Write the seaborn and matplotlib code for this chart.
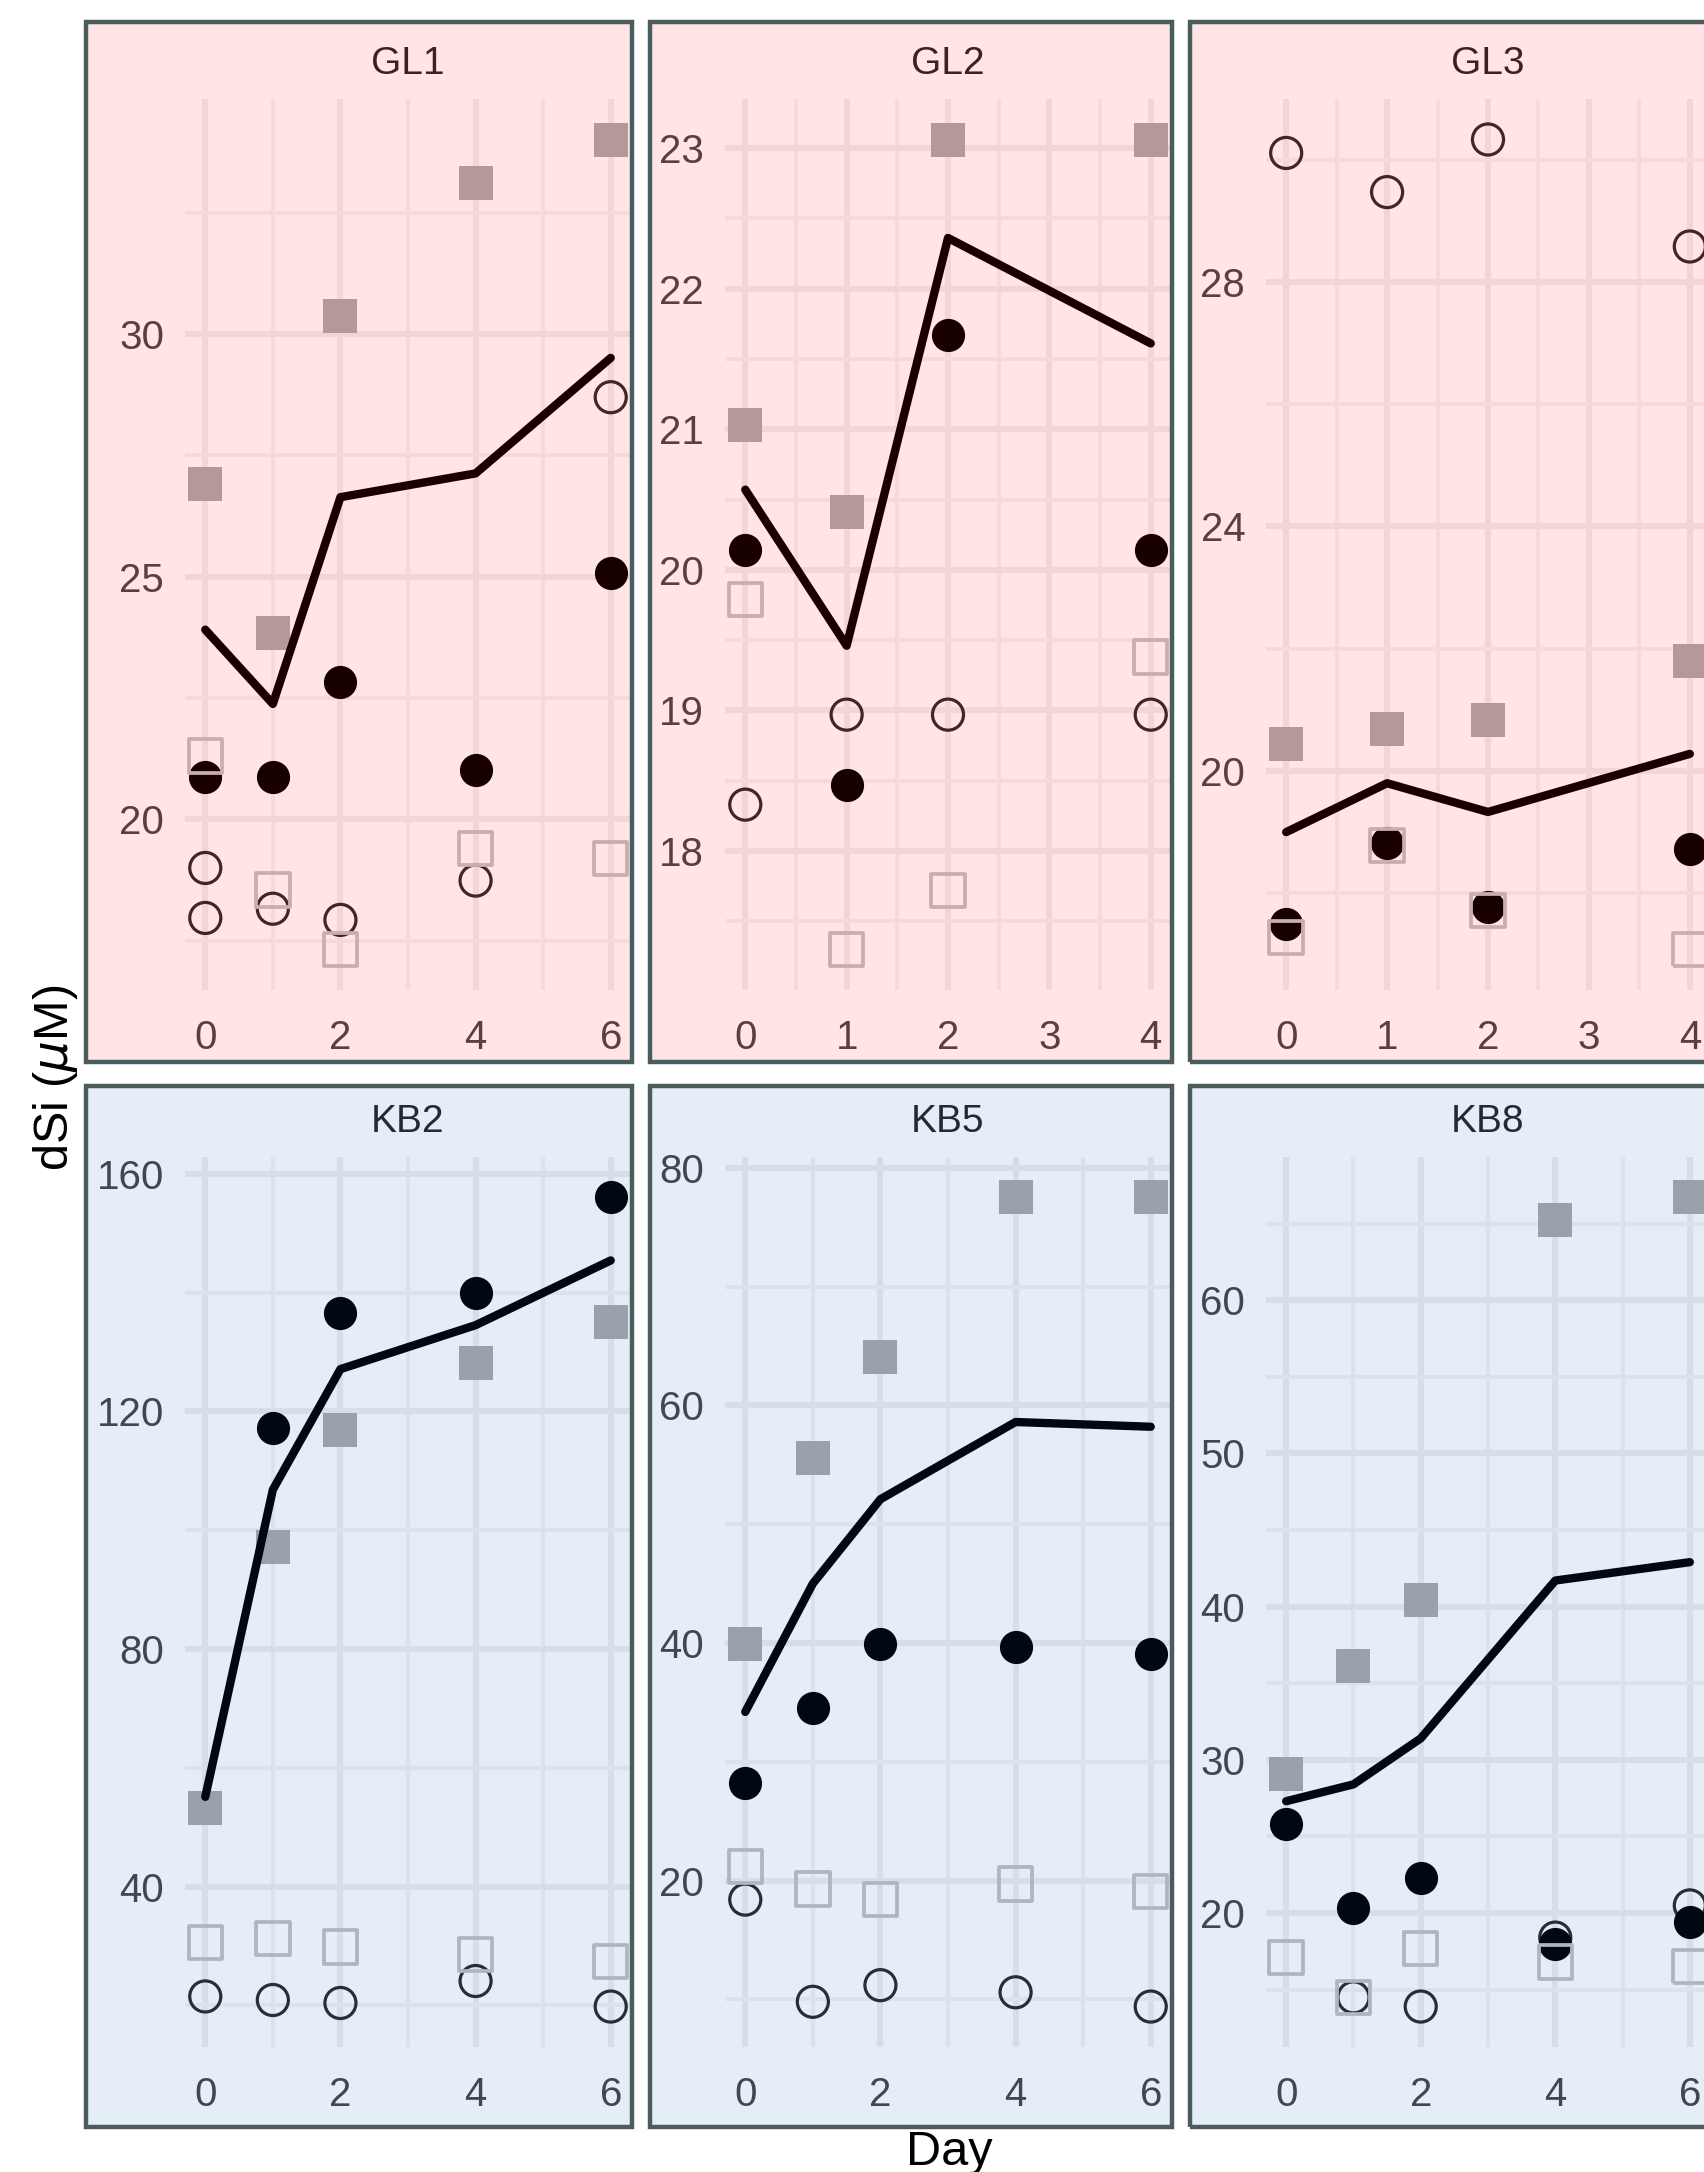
import numpy as np
import pandas as pd
import matplotlib
matplotlib.use("Agg")
import matplotlib.pyplot as plt
import seaborn as sns
from matplotlib.patches import Rectangle
from matplotlib.ticker import MultipleLocator

nan = np.nan

# ---- data: dissolved silica (uM) per site and sampling day ----
sites = ["GL1", "GL2", "GL3", "KB2", "KB5", "KB8"]
days = [
    [0, 1, 2, 4, 6],
    [0, 1, 2, 4],
    [0, 1, 2, 4],
    [0, 1, 2, 4, 6],
    [0, 1, 2, 4, 6],
    [0, 1, 2, 4, 6],
]
square_filled = [
    [26.92, 23.84, 30.38, 33.12, 34.01],
    [21.03, 20.41, 23.06, 23.06],
    [20.44, 20.69, 20.83, 21.80],
    [53.3, 97.2, 116.8, 128.2, 135.1],
    [39.9, 55.6, 64.1, 77.5, 77.5],
    [29.1, 36.1, 40.4, 65.2, 66.7],
]
circle_filled = [
    [20.87, 20.87, 22.84, 21.02, 25.08],
    [20.14, 18.47, 21.67, 20.14],
    [17.50, 18.83, 17.78, 18.72],
    [nan, 117.2, 136.5, 140.0, 156.0],
    [28.2, 34.5, 39.9, 39.7, 39.1],
    [25.8, 20.3, 22.3, 18.0, 19.4],
]
circle_open = [
    [19.00, 18.16, 17.93, 18.74, 28.70],
    [18.33, 18.97, 18.97, 18.97],
    [30.11, 29.47, 30.33, 28.58],
    [21.5, 20.9, 20.4, 24.1, 19.8],
    [18.4, 9.8, 11.2, 10.6, 9.4],
    [nan, 14.5, 13.9, 18.4, 20.5],
]
# duplicate open-circle replicate (GL1, day 0)
circle_open_extra = [
    [17.97, nan, nan, nan, nan],
    [nan, nan, nan, nan],
    [nan, nan, nan, nan],
    [nan, nan, nan, nan, nan],
    [nan, nan, nan, nan, nan],
    [nan, nan, nan, nan, nan],
]
square_open = [
    [21.31, 18.55, 17.32, 19.40, 19.19],
    [19.79, 17.30, 17.72, 19.38],
    [17.28, 18.78, 17.72, 17.08],
    [30.6, 31.3, 29.8, 28.6, 27.4],
    [21.2, 19.3, 18.4, 19.7, 19.1],
    [17.1, 14.5, 17.7, 16.8, 16.5],
]
mean_line = [
    [23.91, 22.38, 26.64, 27.13, 29.51],
    [20.57, 19.46, 22.36, 21.61],
    [19.00, 19.80, 19.33, 20.28],
    [55.1, 106.8, 127.1, 134.5, 145.4],
    [34.2, 45.0, 52.1, 58.6, 58.2],
    [27.3, 28.4, 31.4, 41.7, 42.9],
]
x_major = [2, 1, 1, 2, 2, 2]
y_major = [5, 1, 4, 40, 20, 10]

# ---- layout (pixels) ----
W, H = 1704, 2172
col_border = [(86, 632), (650, 1172), (1190, 1722)]
row_border = [(22, 1062), (1086, 2127)]
col_axes = [(185, 631), (725, 1171), (1266, 1710)]
row_axes = [(99, 990), (1157, 2047)]
row_tint = [((1.0, 0.0, 0.0), 0.10), ((0.0, 0.333, 0.725), 0.10)]
border_color = "#4a5c5c"

sns.set_theme(style="white")
plt.rcParams["font.family"] = ["Liberation Sans", "DejaVu Sans"]
plt.rcParams["mathtext.fontset"] = "dejavusans"

fig = plt.figure(figsize=(W / 100, H / 100), dpi=100)
fig.patch.set_facecolor("white")


def fig_box(x0, y0, x1, y1):
    return [x0 / W, 1 - y1 / H, (x1 - x0) / W, (y1 - y0) / H]


for i, site in enumerate(sites):
    r, c = divmod(i, 3)
    ax = fig.add_axes(fig_box(col_axes[c][0], row_axes[r][0], col_axes[c][1], row_axes[r][1]))
    ax.set_facecolor("none")

    df = pd.DataFrame({
        "day": days[i],
        "sq_fill": square_filled[i],
        "ci_fill": circle_filled[i],
        "ci_open": circle_open[i],
        "ci_open2": circle_open_extra[i],
        "sq_open": square_open[i],
        "mean": mean_line[i],
    })

    sns.scatterplot(data=df, x="day", y="sq_fill", marker="s", s=600, color="#ababab",
                    linewidth=0, ax=ax, zorder=2, legend=False)
    for col in ["ci_open", "ci_open2"]:
        sns.scatterplot(data=df, x="day", y=col, marker="o", s=500, facecolor="none",
                        edgecolor="#2b2b2b", linewidth=2.3, ax=ax, zorder=3, legend=False)
    sns.scatterplot(data=df, x="day", y="ci_fill", marker="o", s=570, color="black",
                    linewidth=0, ax=ax, zorder=4, legend=False)
    sns.scatterplot(data=df, x="day", y="sq_open", marker="s", s=580, facecolor="none",
                    edgecolor="#c2c2c2", linewidth=2.7, ax=ax, zorder=5, legend=False)
    sns.lineplot(data=df, x="day", y="mean", color="black", linewidth=6.0,
                 errorbar=None, ax=ax, zorder=6, legend=False)

    # ggplot-style 5% expansion of the data range
    d = np.array(days[i], dtype=float)
    xr = d.max() - d.min()
    ax.set_xlim(d.min() - 0.05 * xr, d.max() + 0.05 * xr)
    vals = np.concatenate([np.array(v[i], dtype=float) for v in
                           (square_filled, circle_filled, circle_open, circle_open_extra,
                            square_open, mean_line)])
    lo, hi = np.nanmin(vals), np.nanmax(vals)
    yr = hi - lo
    ax.set_ylim(lo - 0.05 * yr, hi + 0.05 * yr)

    ax.xaxis.set_major_locator(MultipleLocator(x_major[i]))
    ax.xaxis.set_minor_locator(MultipleLocator(x_major[i] / 2))
    ax.yaxis.set_major_locator(MultipleLocator(y_major[i]))
    ax.yaxis.set_minor_locator(MultipleLocator(y_major[i] / 2))
    ax.set_axisbelow(True)
    ax.grid(True, which="major", color="#efefef", linewidth=4.4)
    ax.grid(True, which="minor", color="#f3f3f3", linewidth=3.0)
    for sp in ax.spines.values():
        sp.set_visible(False)
    ax.tick_params(which="both", length=0, labelsize=29, labelcolor="#474747")
    ax.tick_params(axis="x", pad=21)
    ax.tick_params(axis="y", pad=15)
    ax.set_xlabel("")
    ax.set_ylabel("")
    ax.annotate(site, xy=(0.5, 1.0), xycoords="axes fraction", xytext=(0, 18),
                textcoords="offset points", ha="center", va="baseline",
                fontsize=28, color="#262626", annotation_clip=False)

    # panel tint and frame
    bx0, bx1 = col_border[c]
    by0, by1 = row_border[r]
    tint, alpha = row_tint[r]
    fig.patches.append(Rectangle((bx0 / W, 1 - by1 / H), (bx1 - bx0) / W, (by1 - by0) / H,
                                 transform=fig.transFigure, facecolor=tint, alpha=alpha,
                                 edgecolor="none", zorder=10))
    fig.patches.append(Rectangle((bx0 / W, 1 - by1 / H), (bx1 - bx0) / W, (by1 - by0) / H,
                                 transform=fig.transFigure, facecolor="none",
                                 edgecolor=border_color, linewidth=3.2, zorder=11))

fig.text(949 / W, 1 - 2165 / H, "Day", ha="center", va="baseline", fontsize=35,
         color="black", zorder=12)
fig.text(56 / W, 1 - 1078 / H, r"dSi ($\mu$M)", ha="center", va="center", rotation=90,
         fontsize=35, color="black", zorder=12)

fig.savefig("out.png", dpi=100, facecolor="white")
